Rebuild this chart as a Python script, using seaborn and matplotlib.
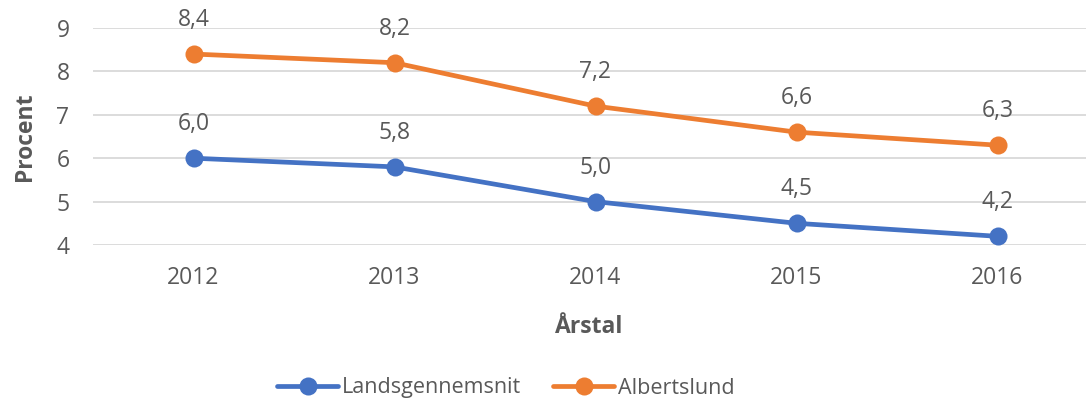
import matplotlib.pyplot as plt
import pandas as pd
import seaborn as sns

years = ["2012", "2013", "2014", "2015", "2016"]
lands = [6.0, 5.8, 5.0, 4.5, 4.2]
albertslund = [8.4, 8.2, 7.2, 6.6, 6.3]
series = ["Landsgennemsnit", "Albertslund"]
colors = ["#4472C4", "#ED7D31"]

df = pd.DataFrame(
    {
        "Årstal": years * 2,
        "Procent": lands + albertslund,
        "serie": [series[0]] * 5 + [series[1]] * 5,
    }
)

sns.set_style("white")
plt.rcParams["font.family"] = ["Open Sans", "DejaVu Sans"]
text_color = "#595959"
fs = 16.5

fig = plt.figure(figsize=(10.86, 4.03), dpi=100)
ax = fig.add_axes([93 / 1086, 1 - 245 / 403, 993 / 1086, 217 / 403])

sns.lineplot(
    data=df,
    x="Årstal",
    y="Procent",
    hue="serie",
    palette=colors,
    marker="o",
    markersize=13,
    markeredgewidth=0,
    linewidth=3.4,
    sort=False,
    ax=ax,
)

# data labels above the points
for vals in (lands, albertslund):
    for i, v in enumerate(vals):
        ax.annotate(
            f"{v:.1f}".replace(".", ","),
            (i, v),
            xytext=(0, 34),
            textcoords="offset pixels",
            ha="center",
            va="center",
            fontsize=fs,
            color=text_color,
        )

ax.set_xlim(-0.5, -0.5 + 993 / 201)
ax.set_ylim(4, 9)
ax.set_yticks([4, 5, 6, 7, 8, 9])
ax.grid(axis="y", color="#D9D9D9", linewidth=1.3)
ax.set_axisbelow(True)
sns.despine(ax=ax, left=True, bottom=True)
ax.tick_params(length=0, labelsize=fs, labelcolor=text_color)
ax.tick_params(axis="y", pad=17)
ax.tick_params(axis="x", pad=15)

ax.set_xlabel("Årstal", fontsize=fs, fontweight="bold", color=text_color, labelpad=18)
ax.set_ylabel("Procent", fontsize=fs, fontweight="bold", color=text_color, labelpad=14)

ax.legend(
    loc="center",
    bbox_to_anchor=(506 / 1086, 1 - 388 / 403),
    bbox_transform=fig.transFigure,
    ncol=2,
    frameon=False,
    fontsize=15.5,
    labelcolor=text_color,
    handlelength=2.8,
    handletextpad=0.2,
    columnspacing=1.5,
)

fig.savefig("out.png", dpi=100)
